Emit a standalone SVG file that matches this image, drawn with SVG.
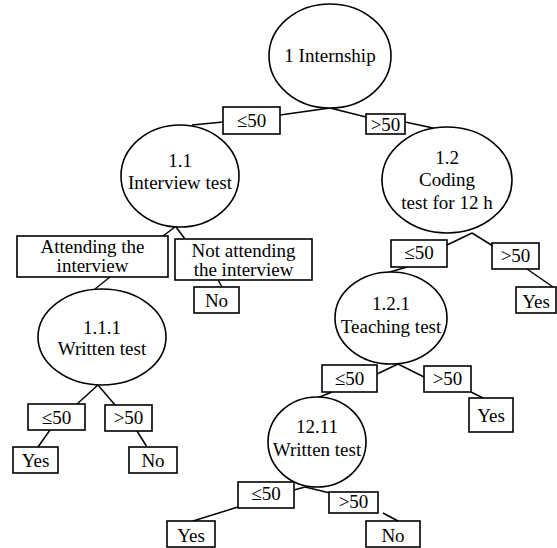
<svg xmlns="http://www.w3.org/2000/svg" width="557" height="548" viewBox="0 0 557 548">
<style>
.n ellipse,.n rect{fill:#fff;stroke:#000;stroke-width:1.6}
.n text{font-family:'Liberation Serif',Tinos,'Times New Roman','DejaVu Serif',serif;font-size:19px;text-anchor:middle;fill:#000}
#connectors line{stroke:#000;stroke-width:1.5}
</style>
<rect width="557" height="548" fill="#fff"/>
<g id="connectors">
<line x1="330" y1="108" x2="280" y2="115"/>
<line x1="223" y1="122" x2="192" y2="125"/>
<line x1="330" y1="108" x2="366" y2="117"/>
<line x1="405" y1="122" x2="433" y2="128"/>
<line x1="175" y1="227" x2="163" y2="236"/>
<line x1="176" y1="227" x2="185" y2="239"/>
<line x1="110" y1="277" x2="95" y2="289"/>
<line x1="218" y1="280" x2="222" y2="287"/>
<line x1="98" y1="385" x2="77" y2="404"/>
<line x1="98" y1="385" x2="115" y2="405"/>
<line x1="50" y1="430" x2="38" y2="447"/>
<line x1="137" y1="431" x2="147" y2="447"/>
<line x1="472" y1="233" x2="447" y2="245"/>
<line x1="472" y1="233" x2="493" y2="246"/>
<line x1="407" y1="267" x2="383" y2="274"/>
<line x1="527" y1="269" x2="553" y2="287"/>
<line x1="398" y1="364" x2="377" y2="374"/>
<line x1="398" y1="364" x2="424" y2="377"/>
<line x1="471" y1="392" x2="483" y2="398"/>
<line x1="332" y1="392" x2="317" y2="398"/>
<line x1="305" y1="487" x2="294" y2="490"/>
<line x1="305" y1="487" x2="330" y2="493"/>
<line x1="238" y1="507" x2="193" y2="521"/>
<line x1="383" y1="513" x2="398" y2="521"/>
</g>
<g id="n1" class="n"><ellipse cx="330" cy="56" rx="61" ry="52"/><text x="330" y="62">1 Internship</text></g>
<g id="e1le" class="n"><rect x="223" y="107" width="57" height="27"/><text x="251.5" y="127">≤50</text></g>
<g id="e1gt" class="n"><rect x="366" y="114" width="39" height="20"/><text x="385.5" y="131">&gt;50</text></g>
<g id="n11" class="n"><ellipse cx="180" cy="176" rx="59" ry="51"/><text x="180" y="167">1.1</text><text x="180" y="189">Interview test</text></g>
<g id="e11a" class="n"><rect x="17" y="236" width="151" height="41"/><text x="92.5" y="253">Attending the</text><text x="92.5" y="272">interview</text></g>
<g id="e11n" class="n"><rect x="175" y="239" width="137" height="41"/><text x="243.5" y="257">Not attending</text><text x="243.5" y="276">the interview</text></g>
<g id="l11no" class="n"><rect x="194" y="287" width="45" height="26"/><text x="216.5" y="307">No</text></g>
<g id="n111" class="n"><ellipse cx="102" cy="337" rx="64" ry="48"/><text x="102" y="334">1.1.1</text><text x="102" y="355">Written test</text></g>
<g id="e111le" class="n"><rect x="28" y="404" width="57" height="26"/><text x="56.5" y="424">≤50</text></g>
<g id="e111gt" class="n"><rect x="105" y="405" width="47" height="26"/><text x="128.5" y="424">&gt;50</text></g>
<g id="l111yes" class="n"><rect x="13" y="447" width="45" height="26"/><text x="35.5" y="467">Yes</text></g>
<g id="l111no" class="n"><rect x="129" y="447" width="48" height="26"/><text x="153" y="467">No</text></g>
<g id="n12" class="n"><ellipse cx="447" cy="180" rx="65" ry="53"/><text x="447" y="164">1.2</text><text x="447" y="186">Coding</text><text x="447" y="209">test for 12 h</text></g>
<g id="e12le" class="n"><rect x="391" y="240" width="56" height="27"/><text x="419" y="259">≤50</text></g>
<g id="e12gt" class="n"><rect x="492" y="243" width="47" height="26"/><text x="515.5" y="262">&gt;50</text></g>
<g id="l12yes" class="n"><rect x="516" y="287" width="40" height="26"/><text x="536" y="308">Yes</text></g>
<g id="n121" class="n"><ellipse cx="391" cy="318" rx="56" ry="46"/><text x="391" y="310">1.2.1</text><text x="391" y="333">Teaching test</text></g>
<g id="e121le" class="n"><rect x="322" y="365" width="55" height="27"/><text x="349.5" y="385">≤50</text></g>
<g id="e121gt" class="n"><rect x="424" y="366" width="47" height="26"/><text x="447.5" y="385">&gt;50</text></g>
<g id="l121yes" class="n"><rect x="469" y="398" width="44" height="34"/><text x="491" y="422">Yes</text></g>
<g id="n1211" class="n"><ellipse cx="317" cy="442" rx="49" ry="45"/><text x="317" y="433">12.11</text><text x="317" y="456">Written test</text></g>
<g id="e1211le" class="n"><rect x="238" y="482" width="56" height="26"/><text x="266" y="500">≤50</text></g>
<g id="e1211gt" class="n"><rect x="329" y="492" width="49" height="21"/><text x="353.5" y="508">&gt;50</text></g>
<g id="l1211yes" class="n"><rect x="167" y="521" width="48" height="26"/><text x="191" y="542">Yes</text></g>
<g id="l1211no" class="n"><rect x="366" y="521" width="54" height="26"/><text x="393" y="542">No</text></g>
</svg>
